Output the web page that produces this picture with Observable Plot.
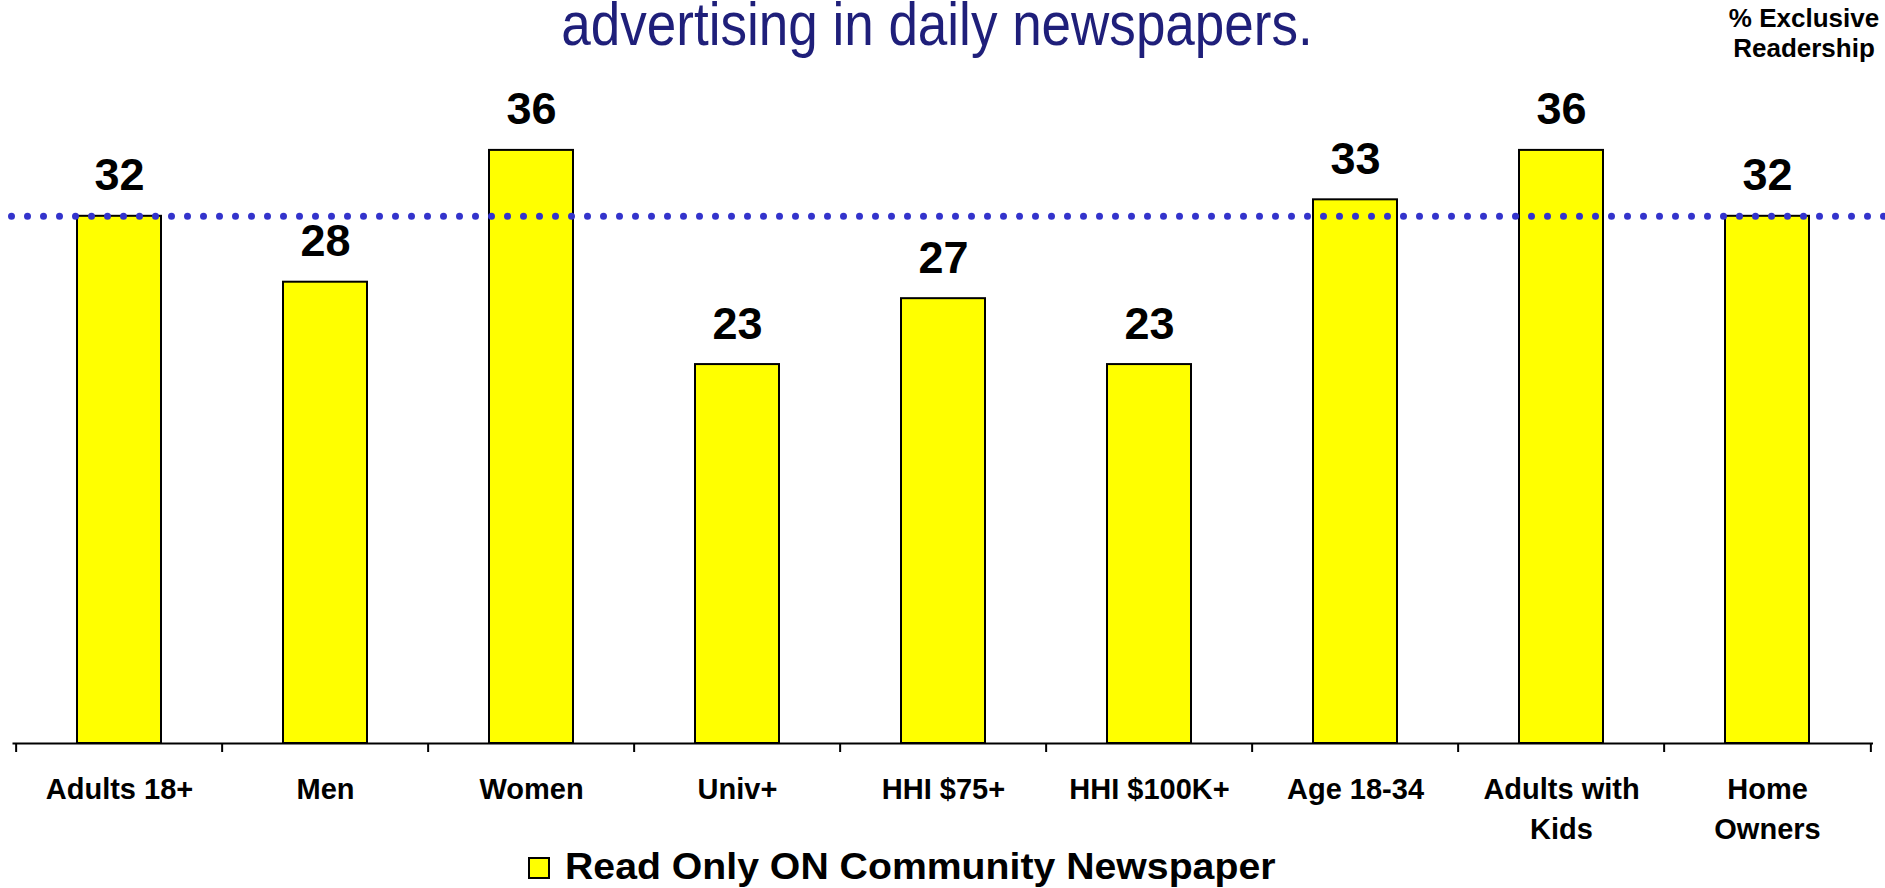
<!DOCTYPE html>
<html>
<head>
<meta charset="utf-8">
<script src="https://cdn.jsdelivr.net/npm/d3@7"></script>
<script src="https://cdn.jsdelivr.net/npm/@observablehq/plot@0.6"></script>
<style>
  html, body { margin: 0; padding: 0; background: #fff; }
  body { width: 1885px; height: 888px; position: relative; overflow: hidden; font-family: "Liberation Sans", Arial, sans-serif; }
  #chart { position: absolute; left: 0; top: 0; }
  #title { position: absolute; left: 937px; top: -7px; font-size: 62px; line-height: 62px; color: #1F1F7A; white-space: nowrap; transform: translateX(-50%) scaleX(0.855); transform-origin: center center; }
  #unit { position: absolute; left: 1704px; width: 200px; top: 3px; text-align: center; font-size: 26px; line-height: 30px; font-weight: bold; color: #000; }
  #swatch { position: absolute; left: 528px; top: 857px; width: 22px; height: 22px; box-sizing: border-box; border: 2px solid #000; background: #FFFF00; }
  #legend { position: absolute; left: 565px; top: 846px; font-size: 37px; line-height: 42px; font-weight: bold; color: #000; white-space: nowrap; transform: scaleX(1.06); transform-origin: left center; }
</style>
</head>
<body>
<div id="title">advertising in daily newspapers.</div>
<div id="unit">% Exclusive<br>Readership</div>
<div id="chart"></div>
<div id="swatch"></div>
<div id="legend">Read Only ON Community Newspaper</div>
<script>
const categories = ["Adults 18+", "Men", "Women", "Univ+", "HHI $75+", "HHI $100K+", "Age 18-34", "Adults with Kids", "Home Owners"];
const tickLabels = ["Adults 18+", "Men", "Women", "Univ+", "HHI $75+", "HHI $100K+", "Age 18-34", "Adults with\nKids", "Home\nOwners"];
const values = [32, 28, 36, 23, 27, 23, 33, 36, 32];
const average = [32];
const seriesName = "Read Only ON Community Newspaper";

const data = categories.map((c, i) => ({cat: c, value: values[i], label: tickLabels[i]}));

const W = 1885, H = 888, mL = 12.5, mR = 12;
const step = (W - mL - mR) / categories.length;

const chart = Plot.plot({
  width: W,
  height: H,
  marginTop: 84,
  marginBottom: 145,
  marginLeft: mL,
  marginRight: mR,
  x: {domain: categories, paddingInner: 0.594, paddingOuter: 0.297, axis: null},
  y: {domain: [0, 40], axis: null},
  style: {fontFamily: "'Liberation Sans', Arial, sans-serif", background: "transparent", color: "#000"},
  marks: [
    Plot.barY(data, {x: "cat", y: "value", fill: "#FFFF00", stroke: "#000", strokeWidth: 2}),
    Plot.ruleY([0], {stroke: "#000", strokeWidth: 2}),
    Plot.ruleX(categories, {x: d => d, y1: 0, y2: 0, insetBottom: -9, dx: -step / 2, stroke: "#000", strokeWidth: 2}),
    Plot.ruleX(categories.slice(-1), {x: d => d, y1: 0, y2: 0, insetBottom: -9, dx: step / 2, stroke: "#000", strokeWidth: 2}),
    Plot.ruleY(average, {stroke: "#3333CC", strokeWidth: 7, strokeDasharray: "0,16", strokeLinecap: "round", insetRight: -12, insetLeft: -1}),
    Plot.text(data, {x: "cat", y: "value", text: d => String(d.value), lineAnchor: "bottom", dy: -26, fontSize: 45, fontWeight: "bold", fill: "#000"}),
    Plot.text(data, {x: "cat", y: () => 0, text: "label", lineAnchor: "top", dy: 26, fontSize: 29, fontWeight: "bold", lineHeight: 1.41, fill: "#000"})
  ]
});
document.getElementById("chart").appendChild(chart);
</script>
</body>
</html>
